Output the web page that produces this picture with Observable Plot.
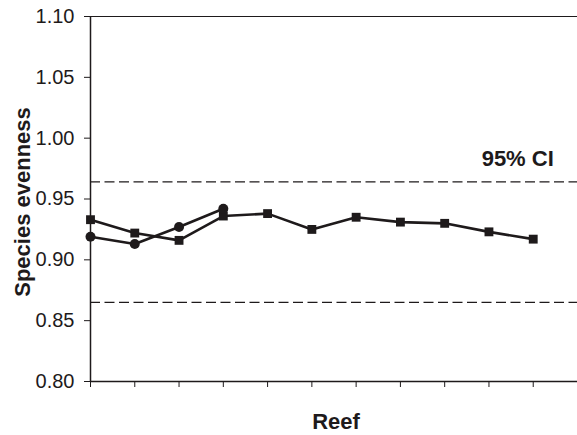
<!DOCTYPE html>
<html>
<head>
<meta charset="utf-8">
<script src="https://cdn.jsdelivr.net/npm/d3@7"></script>
<script src="https://cdn.jsdelivr.net/npm/@observablehq/plot@0.6"></script>
<style>
  html, body { margin: 0; padding: 0; background: #fff; }
  #chart svg { display: block; }
</style>
</head>
<body>
<div id="chart"></div>
<script>
// Reef index positions (unlabelled ticks)
const reefIndex = [0, 1, 2, 3, 4, 5, 6, 7, 8, 9, 10];
// Series 1 (squares)
const squareVals = [0.933, 0.922, 0.916, 0.936, 0.938, 0.925, 0.935, 0.931, 0.930, 0.923, 0.917];
// Series 2 (circles)
const circleVals = [0.919, 0.913, 0.927, 0.942];
// 95% confidence interval bounds
const ciBounds = [0.964, 0.865];
const ciLabel = "95% CI";
// Y tick values
const yTicks = [0.80, 0.85, 0.90, 0.95, 1.00, 1.05, 1.10];
const yTitle = "Species evenness";
const xTitle = "Reef";

const squares = squareVals.map((v, i) => ({x: reefIndex[i], y: v}));
const circles = circleVals.map((v, i) => ({x: reefIndex[i], y: v}));

const ink = "#1e1a1b";
const font = "'Liberation Sans', Arial, sans-serif";

const chart = Plot.plot({
  width: 577,
  height: 435,
  marginLeft: 90,
  marginRight: 0,
  marginTop: 16,
  marginBottom: 54,
  style: {fontFamily: font, background: "#fff", color: ink},
  x: {domain: [0, 11], axis: null},
  y: {domain: [0.80, 1.10], axis: null},
  marks: [
    // CI dashed lines
    Plot.ruleY(ciBounds, {stroke: ink, strokeWidth: 1.3, strokeDasharray: "10,4.5"}),
    // frame lines
    Plot.ruleY([1.10], {stroke: ink, strokeWidth: 1.2}),
    Plot.ruleY([0.80], {stroke: ink, strokeWidth: 1.5}),
    Plot.ruleX([0], {stroke: ink, strokeWidth: 1.5}),
    // axes
    Plot.axisY({
      ticks: yTicks,
      tickSize: 6,
      tickPadding: 10,
      tickFormat: d3.format(".2f"),
      fontSize: 20,
      stroke: ink,
      fill: ink,
      label: null
    }),
    Plot.axisX({
      ticks: reefIndex,
      tickSize: 6,
      tickFormat: () => "",
      stroke: ink,
      label: null
    }),
    // series lines
    Plot.line(squares, {x: "x", y: "y", stroke: ink, strokeWidth: 2.6}),
    Plot.line(circles, {x: "x", y: "y", stroke: ink, strokeWidth: 2.6}),
    Plot.dot(squares, {x: "x", y: "y", symbol: "square", r: 5, fill: ink, stroke: "none"}),
    Plot.dot(circles, {x: "x", y: "y", symbol: "circle", r: 5, fill: ink, stroke: "none"}),
    // CI label
    Plot.text([ciLabel], {
      x: 9.65, y: ciBounds[0], dy: -23,
      fontSize: 22, fontWeight: "bold", fill: ink, textAnchor: "middle", lineAnchor: "middle"
    }),
    // axis titles
    Plot.text([yTitle], {
      frameAnchor: "left", dx: -68, dy: 3, rotate: -90,
      fontSize: 22, fontWeight: "bold", fill: ink, textAnchor: "middle", lineAnchor: "middle"
    }),
    Plot.text([xTitle], {
      frameAnchor: "bottom", dx: 2, dy: 40,
      fontSize: 22, fontWeight: "bold", fill: ink, textAnchor: "middle", lineAnchor: "middle"
    })
  ]
});

document.getElementById("chart").appendChild(chart);
</script>
</body>
</html>
